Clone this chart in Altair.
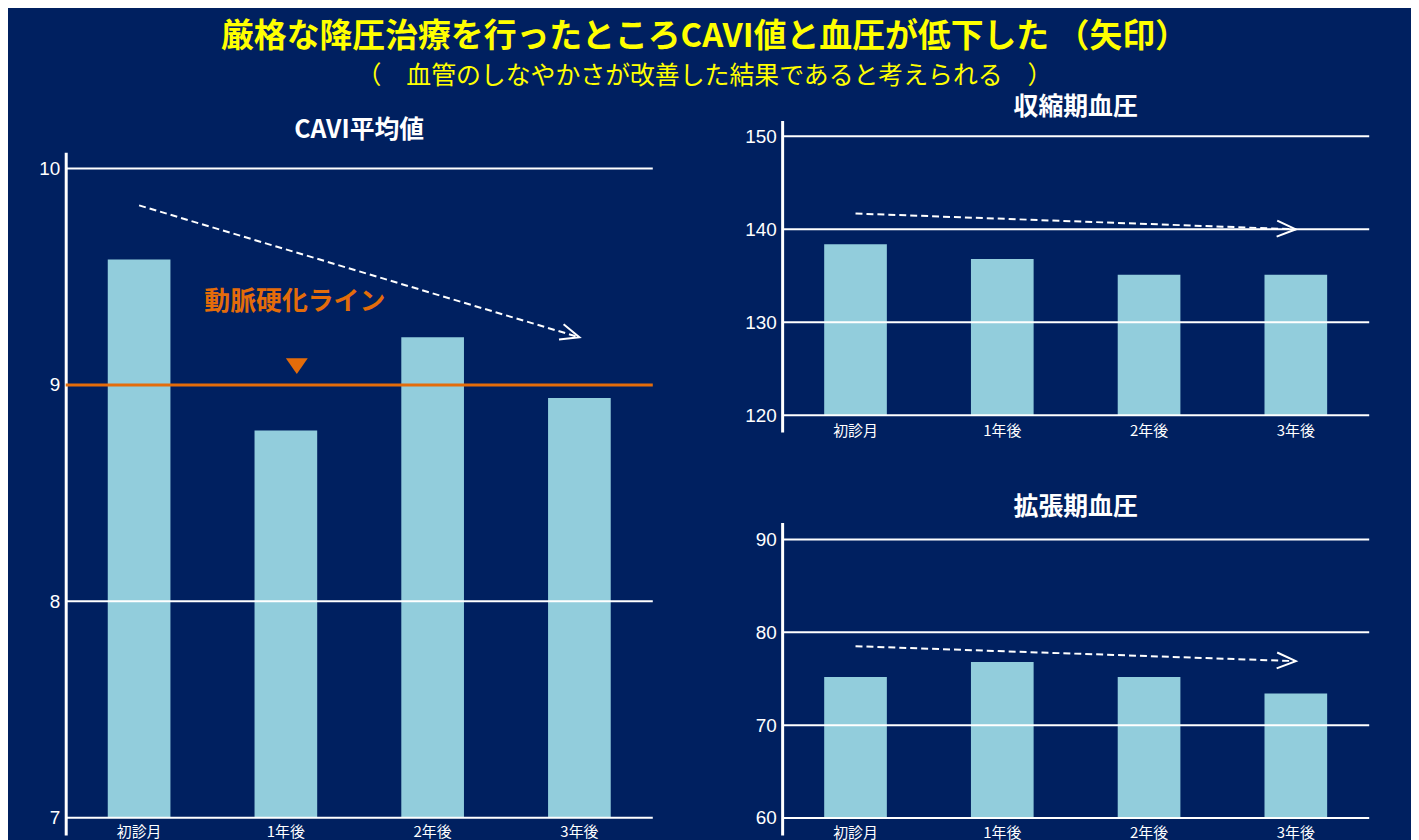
import altair as alt
import pandas as pd

# ---------------- data ----------------
periods = ["初診月", "1年後", "2年後", "3年後"]

cavi_values = [9.58, 8.79, 9.22, 8.94]
sbp_values = [138.4, 136.8, 135.1, 135.1]
dbp_values = [75.2, 76.8, 75.2, 73.4]

cavi_ticks = [7, 8, 9, 10]
sbp_ticks = [120, 130, 140, 150]
dbp_ticks = [60, 70, 80, 90]

cavi_domain = [6.92, 10.075]
sbp_domain = [118.2, 151.7]
dbp_domain = [58.17, 91.83]

# trend arrows (start at 初診月, end at 3年後)
cavi_arrow = [9.83, 9.22]
sbp_arrow = [141.7, 140.0]
dbp_arrow = [78.5, 76.9]

stiffness_line = [9]
stiffness_label = "動脈硬化ライン"
stiffness_label_y = [9.385]
stiffness_marker_y = [9.087]

main_title = "厳格な降圧治療を行ったところCAVI値と血圧が低下した （矢印）"
sub_title = "（　血管のしなやかさが改善した結果であると考えられる　）"
cavi_title = "CAVI平均値"
sbp_title = "収縮期血圧"
dbp_title = "拡張期血圧"

# ---------------- style ----------------
NAVY = "#002060"
BAR = "#92CDDC"
ORANGE = "#E46C0A"
YELLOW = "#FFFF00"
JP = "Noto Sans CJK JP"
NUM = "Liberation Sans"
CHEVRON = "M-1.9,-0.8L0,0L-1.9,0.8"
TRIANGLE = "M0,-0.73L2,-0.73L1,0.73Z"
PANEL_W = 590


def panel(values, ticks, domain, arrow, arrow_angle, label_pad, grid_values, extra=False):
    x = alt.X(
        "period:N", sort=periods, title=None,
        scale=alt.Scale(paddingInner=0.573, paddingOuter=0.2865),
        axis=alt.Axis(domain=False, ticks=False, tickSize=0, grid=False, labelAngle=0,
                      labelPadding=label_pad, labelColor="white", labelFont=JP,
                      labelFontSize=15),
    )

    def y(field):
        return alt.Y(
            field, title=None,
            scale=alt.Scale(domain=domain, nice=False, zero=False),
            axis=alt.Axis(values=ticks, grid=False, ticks=False, tickSize=0,
                          domainColor="white", domainWidth=3, labelPadding=6,
                          labelColor="white", labelFont=NUM, labelFontSize=19),
        )

    bars_df = pd.DataFrame({"period": periods, "value": values, "base": [ticks[0]] * len(periods)})
    bars = alt.Chart(bars_df).mark_bar(color=BAR).encode(x=x, y=y("value:Q"), y2="base:Q")

    grid = alt.Chart(pd.DataFrame({"v": grid_values})).mark_rule(
        color="white", strokeWidth=2).encode(y=y("v:Q"))

    arrow_df = pd.DataFrame({"period": [periods[0], periods[-1]], "value": arrow})
    line = alt.Chart(arrow_df).mark_line(
        color="white", strokeWidth=2, strokeDash=[7, 4]).encode(x=x, y=y("value:Q"))
    head = alt.Chart(arrow_df.iloc[[1]]).mark_point(
        shape=CHEVRON, size=400, filled=False, color="white", strokeWidth=2,
        angle=arrow_angle, opacity=1).encode(x=x, y=y("value:Q"))

    layers = [bars, grid]
    if extra:
        ref = alt.Chart(pd.DataFrame({"v": stiffness_line})).mark_rule(
            color=ORANGE, strokeWidth=3).encode(y=y("v:Q"))
        lab = alt.Chart(pd.DataFrame({"period": [periods[1]], "v": stiffness_label_y,
                                      "t": [stiffness_label]})).mark_text(
            color=ORANGE, font=JP, fontSize=26, fontWeight="bold", dx=9,
            baseline="middle", align="center").encode(x=x, y=y("v:Q"), text="t:N")
        tri = alt.Chart(pd.DataFrame({"period": [periods[1]], "v": stiffness_marker_y})).mark_point(
            shape=TRIANGLE, size=484, filled=True, color=ORANGE, opacity=1,
            strokeWidth=0).encode(x=x, y=y("v:Q"))
        layers += [ref, lab, tri]
    layers += [line, head]
    return alt.layer(*layers)


def ptitle(text, offset):
    return alt.TitleParams(text=text, color="white", font=JP, fontSize=25,
                           fontWeight="bold", offset=offset)


def spacer(h):
    # invisible block that only reserves vertical room in the layout
    return alt.Chart(pd.DataFrame({"a": [0]})).mark_rule(opacity=0, strokeWidth=0).encode(
        x=alt.value(0), x2=alt.value(1), y=alt.value(0)).properties(width=PANEL_W, height=h)


left = panel(cavi_values, cavi_ticks, cavi_domain, cavi_arrow, 16.8, -10,
             [7, 8, 10], extra=True).properties(
    width=PANEL_W, height=686, title=ptitle(cavi_title, 9))

top = panel(sbp_values, sbp_ticks, sbp_domain, sbp_arrow, 2.1, -8, sbp_ticks).properties(
    width=PANEL_W, height=313, title=ptitle(sbp_title, 1))

bottom = panel(dbp_values, dbp_ticks, dbp_domain, dbp_arrow, 1.9, -9, dbp_ticks).properties(
    width=PANEL_W, height=314, title=ptitle(dbp_title, 3))

left_col = alt.vconcat(spacer(25), left, spacing=0)
right_col = alt.vconcat(spacer(1), alt.vconcat(top, bottom, spacing=56), spacing=0)

chart = alt.hconcat(left_col, right_col, spacing=90).properties(
    title=alt.TitleParams(
        text=main_title, subtitle=sub_title, anchor="middle",
        color=YELLOW, font=JP, fontSize=33, fontWeight="bold",
        subtitleColor=YELLOW, subtitleFont=JP, subtitleFontSize=25,
        subtitleFontWeight="normal", subtitlePadding=10, offset=5),
    background=NAVY,
    padding={"left": 30, "top": 11, "right": 41, "bottom": 0},
).configure_view(stroke=None)

chart.save("out.html", embed_options={"renderer": "svg", "actions": False})
